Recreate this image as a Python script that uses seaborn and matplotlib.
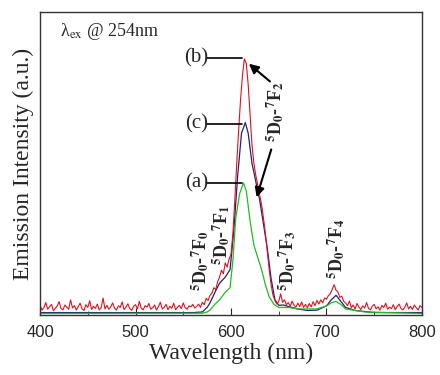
import numpy as np
import pandas as pd
import seaborn as sns
import matplotlib.pyplot as plt
from matplotlib.ticker import MultipleLocator

# (b) noisy red spectrum, read every 2 nm
wl_b = np.arange(400, 801, 2)
int_b = [3.2, 1.6, 2.4, 4.1, 1.9, 2.7, 3.5, 1.4, 2.2, 3.0,
         4.4, 2.1, 1.7, 3.3, 2.6, 1.9, 5.0, 2.3, 3.1, 1.6,
         2.8, 3.9, 2.0, 1.5, 3.4, 2.5, 4.7, 1.8, 2.9, 2.2,
         3.6, 1.7, 2.4, 5.6, 2.0, 3.2, 1.9, 2.7, 4.0, 2.3,
         1.6, 3.0, 2.5, 4.3, 1.8, 2.6, 3.7, 2.1, 1.5, 2.9,
         3.4, 2.0, 4.5, 2.2, 1.7, 3.1, 2.6, 3.8, 1.9, 2.4,
         3.3, 1.6, 2.8, 4.2, 2.0, 2.5, 3.5, 1.8, 2.9, 2.2,
         3.9, 1.7, 2.6, 3.2, 2.1, 4.0, 2.4, 1.9, 3.0, 2.7,
         3.5, 2.3,
         2.8, 3.6, 2.5, 4.2, 3.4, 5.5, 4.8, 6.5, 7.2, 9.0,
         8.4, 11.0, 12.5, 14.8, 13.6, 17.2, 15.8, 18.5, 20.0, 27.0,
         38.0, 50.0, 61.0, 71.0, 79.0, 84.5, 83.0, 76.0, 66.0, 56.0,
         50.0, 46.0, 43.0, 39.5, 36.5, 32.0, 27.0, 21.0, 15.0, 10.0,
         6.5, 4.8, 3.6, 4.5, 7.0, 4.2, 5.0, 3.4, 4.1, 2.9,
         4.6, 3.2, 2.6, 3.9, 2.8, 4.3, 2.5, 3.5, 2.4, 3.8,
         2.7, 4.4, 3.1, 4.8, 3.6, 5.0, 4.0, 5.6, 5.2, 6.4,
         7.0, 8.5, 10.0, 8.2, 7.6, 5.8, 6.2, 4.5, 4.0,
         3.1, 4.6, 2.4, 3.3, 2.0, 3.8, 2.6, 1.8, 3.0, 2.3,
         4.1, 2.2, 1.7, 2.9, 3.5, 2.0, 2.7, 1.6, 3.2, 2.4,
         3.9, 1.9, 2.6, 2.1, 3.4, 1.8, 2.8, 3.6, 2.2, 1.7,
         2.5, 4.0, 2.0, 2.9, 1.8, 3.3, 2.4, 1.6, 3.1, 2.5]

# (c) dark blue spectrum
wl_c = [400, 560, 570, 575, 578, 584, 588, 594, 599, 603, 607, 611, 615,
        618, 622, 626, 630, 634, 638, 642, 646, 650, 655, 660, 670, 680,
        690, 700, 705, 710, 715, 720, 730, 750, 800]
int_c = [0.8, 0.8, 1.0, 2.5, 4.0, 8.0, 10.5, 12.5, 15.0, 28.0, 46.0, 60.0, 63.5,
         60.0, 50.0, 44.0, 38.0, 30.0, 22.0, 12.0, 5.0, 3.2, 3.3, 2.8, 2.0, 1.5,
         1.6, 3.0, 5.0, 6.5, 4.5, 2.5, 1.5, 0.8, 0.8]

# (a) green spectrum
wl_a = [400, 570, 575, 578, 583, 588, 594, 599, 602, 605, 609, 613, 616,
        620, 624, 628, 632, 636, 640, 645, 650, 660, 670, 690, 700, 705,
        710, 715, 720, 740, 800]
int_a = [0.5, 0.6, 1.0, 1.6, 3.5, 5.0, 7.5, 9.0, 18.0, 32.0, 40.0, 43.6, 41.0,
         31.0, 23.0, 19.0, 15.0, 10.0, 6.0, 3.5, 2.5, 2.5, 2.0, 2.0, 3.0, 4.0,
         4.5, 3.5, 2.0, 1.0, 0.5]

df_b = pd.DataFrame({"wl": wl_b, "I": int_b})
df_c = pd.DataFrame({"wl": wl_c, "I": int_c})
df_a = pd.DataFrame({"wl": wl_a, "I": int_a})

sns.set_style("ticks")
plt.rcParams["font.family"] = ["Liberation Serif", "DejaVu Serif"]
plt.rcParams["mathtext.fontset"] = "stix"

fig = plt.figure(figsize=(4.4, 3.75), dpi=100)
ax = fig.add_axes([0.091, 0.16, 0.868, 0.808])

sns.lineplot(data=df_c, x="wl", y="I", color="#22226e", lw=0.9, ax=ax)
sns.lineplot(data=df_a, x="wl", y="I", color="#22bb22", lw=0.9, ax=ax)
sns.lineplot(data=df_b, x="wl", y="I", color="#e01020", lw=0.8, ax=ax)

ax.set_xlim(400, 800)
ax.set_ylim(0, 100)
ax.set_yticks([])
ax.xaxis.set_major_locator(MultipleLocator(100))
ax.xaxis.set_minor_locator(MultipleLocator(50))
ax.tick_params(axis="x", which="major", direction="in", length=5, labelsize=12, pad=7)
ax.tick_params(axis="x", which="minor", direction="in", length=3)
for lab in ax.get_xticklabels():
    lab.set_fontfamily("Liberation Sans")
for s in ax.spines.values():
    s.set_color("#333333")
    s.set_linewidth(1.0)

ax.set_xlabel("Wavelength (nm)", fontsize=17, labelpad=2)
ax.set_ylabel("Emission Intensity (a.u.)", fontsize=17, labelpad=4)

ax.text(421, 93.4, r"λ$_{\mathrm{ex}}$ @ 254nm", fontsize=13, va="center")

# sample labels with leader lines
for lab, y in [("(b)", 84.8), ("(c)", 63.0), ("(a)", 43.6)]:
    ax.text(564, y, lab, fontsize=15, ha="center", va="center")
    ax.plot([575, 612], [y, y], color="black", lw=1.2)

# transition labels
trans = [(r"$^{\mathbf{5}}$D$_{\mathbf{0}}$-$^{\mathbf{7}}$F$_{\mathbf{0}}$", 567.5, 8),
         (r"$^{\mathbf{5}}$D$_{\mathbf{0}}$-$^{\mathbf{7}}$F$_{\mathbf{1}}$", 590, 16.5),
         (r"$^{\mathbf{5}}$D$_{\mathbf{0}}$-$^{\mathbf{7}}$F$_{\mathbf{2}}$", 646, 57),
         (r"$^{\mathbf{5}}$D$_{\mathbf{0}}$-$^{\mathbf{7}}$F$_{\mathbf{3}}$", 659, 8),
         (r"$^{\mathbf{5}}$D$_{\mathbf{0}}$-$^{\mathbf{7}}$F$_{\mathbf{4}}$", 710, 12)]
for t, x, y in trans:
    ax.text(x, y, t, fontsize=13, fontweight="bold", rotation=90, ha="center", va="bottom")

ax.annotate("", xy=(616.5, 83.5), xytext=(643, 76.5),
            arrowprops=dict(arrowstyle="-|>", color="black", lw=1.5, mutation_scale=14))
ax.annotate("", xy=(626, 38), xytext=(643, 55.5),
            arrowprops=dict(arrowstyle="-|>", color="black", lw=1.5, mutation_scale=14))

fig.savefig("out.png", dpi=100)
